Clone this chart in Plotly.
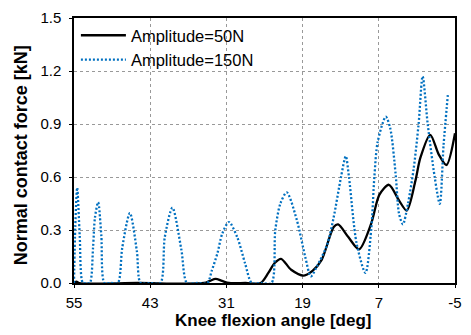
import plotly.graph_objects as go

# Knee flexion angle [deg] and normal contact force [kN]
angle_50N = [55.0, 54.6, 54.2, 45.0, 34.5, 33.6, 32.7, 31.7, 30.6, 28.0, 25.6,
             24.4, 23.4, 22.4, 20.8, 18.8, 17.4, 16.0, 14.1, 13.4, 11.8, 10.1,
             8.2, 6.9, 5.4, 3.8, 2.6, 1.24, 0.46, -1.1, -2.45, -3.65, -5.0]
force_50N = [0.0, 0.008, 0.0, 0.0, 0.0, 0.012, 0.023, 0.012, 0.0, 0.0, 0.0,
             0.057, 0.113, 0.137, 0.075, 0.042, 0.07, 0.131, 0.317, 0.332, 0.26, 0.191,
             0.336, 0.50, 0.556, 0.466, 0.41, 0.578, 0.708, 0.839, 0.727, 0.668, 0.848]

angle_150N = [55.0, 54.8, 54.5, 54.1, 53.6, 53.0, 52.5, 52.0, 51.7, 51.2, 50.7, 50.2,
              49.2, 48.1, 47.4, 46.2, 45.1, 44.5, 43.0, 41.4, 40.7, 39.5, 38.1, 37.2,
              35.6, 34.0, 33.3, 32.4, 31.65, 30.6, 29.3, 28.05, 27.0, 25.5, 23.9, 23.3,
              22.5, 21.5, 19.9, 18.6, 17.7, 16.8, 15.15, 14.1, 12.95, 12.2, 11.7, 10.5,
              9.1, 8.2, 7.7, 7.17, 5.9, 5.2, 4.35, 3.8, 3.2, 2.4, 1.5, 0.73, 0.1, -0.7,
              -1.8, -2.6, -3.2, -3.87]
force_150N = [0.0, 0.32, 0.54, 0.27, 0.0, 0.0, 0.0, 0.2, 0.37, 0.457, 0.27, 0.0,
              0.0, 0.0, 0.2, 0.396, 0.18, 0.0, 0.0, 0.0, 0.26, 0.426, 0.19, 0.0,
              0.0, 0.0, 0.07, 0.17, 0.28, 0.345, 0.26, 0.11, 0.0, 0.0, 0.0, 0.3,
              0.45, 0.513, 0.355, 0.15, 0.038, 0.09, 0.215, 0.373, 0.6, 0.718, 0.6, 0.225,
              0.057, 0.3, 0.6, 0.80, 0.941, 0.876, 0.616, 0.39, 0.332, 0.45, 0.65, 0.9, 1.17, 0.9,
              0.6, 0.448, 0.78, 1.063]

x_ticks = [55, 43, 31, 19, 7, -5]
y_ticks = [0.0, 0.3, 0.6, 0.9, 1.2, 1.5]

FONT = "Liberation Sans, Arial, sans-serif"

fig = go.Figure()
fig.add_trace(go.Scatter(x=angle_50N, y=force_50N, mode="lines", name="Amplitude=50N",
                         line=dict(color="black", width=2.3, shape="spline", smoothing=0.8)))
fig.add_trace(go.Scatter(x=angle_150N, y=force_150N, mode="lines", name="Amplitude=150N",
                         line=dict(color="#0070C0", width=2.3, dash="2px,2px", shape="spline", smoothing=0.8)))

axis_common = dict(showline=True, linecolor="black", linewidth=1.5, mirror=True,
                   showgrid=True, gridcolor="#999999", griddash="dot", gridwidth=1,
                   ticks="outside", ticklen=3, tickcolor="black", zeroline=False,
                   tickfont=dict(family=FONT, size=15, color="black"))

fig.update_layout(
    width=471, height=335,
    margin=dict(l=74, r=9, t=15, b=52),
    paper_bgcolor="white", plot_bgcolor="white",
    font=dict(family=FONT, color="black"),
    xaxis=dict(range=[55, -5], tickvals=x_ticks, ticktext=[str(v) for v in x_ticks],
               ticklabelstandoff=2, **axis_common),
    yaxis=dict(range=[0, 1.5], tickvals=y_ticks, ticktext=[f"{v:.1f}" for v in y_ticks],
               ticklabelstandoff=5, **axis_common),
    showlegend=True,
    legend=dict(x=0.005, y=1.0, xanchor="left", yanchor="top", bgcolor="rgba(255,255,255,0)",
                font=dict(family=FONT, size=16.5, color="black"), borderwidth=0,
                itemwidth=45),
    annotations=[
        dict(text="<b>Knee flexion angle [deg]</b>", xref="paper", yref="paper",
             x=0.521, y=-0.143, xanchor="center", yanchor="middle", showarrow=False,
             font=dict(family=FONT, size=17, color="black")),
        dict(text="<b>Normal contact force [kN]</b>", xref="paper", yref="paper",
             x=-0.139, y=0.482, xanchor="center", yanchor="middle", showarrow=False,
             textangle=-90, font=dict(family=FONT, size=18, color="black")),
    ],
)

fig.write_html("out.html")
